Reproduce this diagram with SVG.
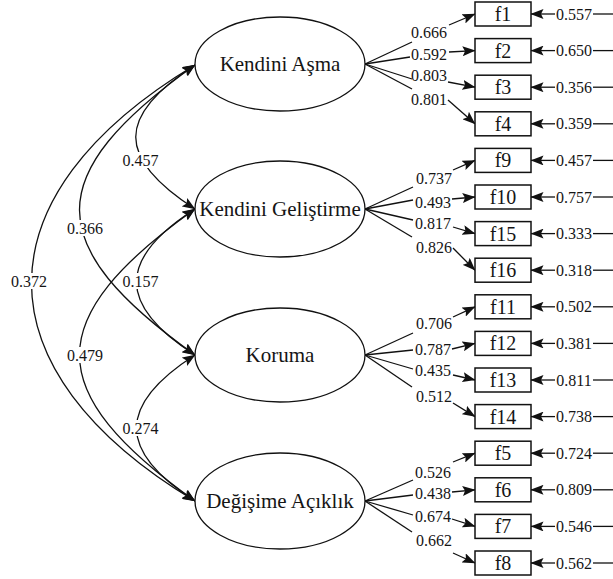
<svg xmlns="http://www.w3.org/2000/svg" width="613" height="579" viewBox="0 0 613 579">
<style>
.ln{stroke:#111;stroke-width:1.3;fill:none}
.arr{marker-end:url(#ah)}
.dbl{marker-start:url(#ah);marker-end:url(#ah)}
.box{fill:#fff;stroke:#111;stroke-width:1.5}
.ell{fill:#fff;stroke:#111;stroke-width:1.3}
.bg{fill:#fff}
text{font-family:"Liberation Serif","Times New Roman",serif;fill:#151515;text-anchor:middle}
.num{font-size:16px}
.lat{font-size:21px}
.obs{font-size:20px}
</style>
<defs>
<marker id="ah" viewBox="0 0 13 10" refX="12.5" refY="5" markerWidth="13" markerHeight="10" markerUnits="userSpaceOnUse" orient="auto-start-reverse">
<path d="M0,0 L13,5 L0,10 L2.5,5 z" fill="#111"/>
</marker>
</defs>
<rect width="613" height="579" fill="#fff"/>

<g id="connectors">
  <!-- correlations -->
  <path class="ln dbl" d="M195,65 C116,116 116,158 195,209"/>
  <path class="ln dbl" d="M195,65 C41,175 41,245 195,355"/>
  <path class="ln dbl" d="M195,65 C-23,196 -23,370 195,501"/>
  <path class="ln dbl" d="M195,209 C117,259 117,305 195,355"/>
  <path class="ln dbl" d="M195,209 C41,319 41,391 195,501"/>
  <path class="ln dbl" d="M195,355 C117,405 117,451 195,501"/>
  <rect class="bg" x="120" y="152" width="41" height="16"/>
  <rect class="bg" x="65" y="220" width="41" height="16"/>
  <rect class="bg" x="9" y="273" width="41" height="16"/>
  <rect class="bg" x="120" y="273" width="41" height="16"/>
  <rect class="bg" x="65" y="347" width="41" height="16"/>
  <rect class="bg" x="120" y="420" width="41" height="16"/>
  <text class="num" x="140.5" y="165.5">0.457</text>
  <text class="num" x="85" y="233.5">0.366</text>
  <text class="num" x="29" y="286.5">0.372</text>
  <text class="num" x="140.5" y="286.5">0.157</text>
  <text class="num" x="85" y="360.5">0.479</text>
  <text class="num" x="140.5" y="433.5">0.274</text>

  <!-- loadings: Kendini Aşma -->
  <path class="ln" d="M365,64 L412,42"/><path class="ln arr" d="M449,25 L475,14"/>
  <path class="ln" d="M365,64 L410,57"/><path class="ln arr" d="M449,52 L475,50.6"/>
  <path class="ln" d="M365,64 L412,79"/><path class="ln arr" d="M448,82 L475,87.2"/>
  <path class="ln" d="M365,64 L412,89"/><path class="ln arr" d="M448,100 L475,123.8"/>
  <text class="num" x="429" y="37.5">0.666</text>
  <text class="num" x="429" y="59.5">0.592</text>
  <text class="num" x="429" y="80.5">0.803</text>
  <text class="num" x="429" y="104.5">0.801</text>

  <!-- loadings: Kendini Geliştirme -->
  <path class="ln" d="M365,209 L413,187"/><path class="ln arr" d="M453,170 L475,160.4"/>
  <path class="ln" d="M365,209 L413,200"/><path class="ln arr" d="M452,199 L475,197"/>
  <path class="ln" d="M365,209 L413,220"/><path class="ln arr" d="M453,227 L475,233.6"/>
  <path class="ln" d="M365,209 L412,237"/><path class="ln arr" d="M453,248 L475,270.2"/>
  <text class="num" x="434" y="183.5">0.737</text>
  <text class="num" x="433" y="207.5">0.493</text>
  <text class="num" x="433" y="228.5">0.817</text>
  <text class="num" x="434" y="252.5">0.826</text>

  <!-- loadings: Koruma -->
  <path class="ln" d="M365,355 L413,333"/><path class="ln arr" d="M453,317 L475,306.8"/>
  <path class="ln" d="M365,355 L413,350"/><path class="ln arr" d="M452,349 L475,343.4"/>
  <path class="ln" d="M365,355 L413,369"/><path class="ln arr" d="M453,375 L475,380"/>
  <path class="ln" d="M365,355 L412,387"/><path class="ln arr" d="M453,403 L475,416.6"/>
  <text class="num" x="434" y="328.5">0.706</text>
  <text class="num" x="433" y="354.5">0.787</text>
  <text class="num" x="433" y="375.5">0.435</text>
  <text class="num" x="434" y="401.5">0.512</text>

  <!-- loadings: Değişime Açıklık -->
  <path class="ln" d="M365,501 L413,480"/><path class="ln arr" d="M453,462 L475,453.2"/>
  <path class="ln" d="M365,501 L413,495"/><path class="ln arr" d="M452,492 L475,489.8"/>
  <path class="ln" d="M365,501 L413,515"/><path class="ln arr" d="M452,519 L475,526.4"/>
  <path class="ln" d="M365,501 L412,532"/><path class="ln arr" d="M453,553 L475,563"/>
  <text class="num" x="433" y="477.5">0.526</text>
  <text class="num" x="433" y="498.5">0.438</text>
  <text class="num" x="433" y="521.5">0.674</text>
  <text class="num" x="434" y="545.5">0.662</text>

  <!-- error terms -->
  <g>
    <path class="ln arr" d="M555,14 L531,14"/><path class="ln" d="M593,14 L613,14"/>
    <path class="ln arr" d="M555,50.6 L531,50.6"/><path class="ln" d="M593,50.6 L613,50.6"/>
    <path class="ln arr" d="M555,87.2 L531,87.2"/><path class="ln" d="M593,87.2 L613,87.2"/>
    <path class="ln arr" d="M555,123.8 L531,123.8"/><path class="ln" d="M593,123.8 L613,123.8"/>
    <path class="ln arr" d="M555,160.4 L531,160.4"/><path class="ln" d="M593,160.4 L613,160.4"/>
    <path class="ln arr" d="M555,197 L531,197"/><path class="ln" d="M593,197 L613,197"/>
    <path class="ln arr" d="M555,233.6 L531,233.6"/><path class="ln" d="M593,233.6 L613,233.6"/>
    <path class="ln arr" d="M555,270.2 L531,270.2"/><path class="ln" d="M593,270.2 L613,270.2"/>
    <path class="ln arr" d="M555,306.8 L531,306.8"/><path class="ln" d="M593,306.8 L613,306.8"/>
    <path class="ln arr" d="M555,343.4 L531,343.4"/><path class="ln" d="M593,343.4 L613,343.4"/>
    <path class="ln arr" d="M555,380 L531,380"/><path class="ln" d="M593,380 L613,380"/>
    <path class="ln arr" d="M555,416.6 L531,416.6"/><path class="ln" d="M593,416.6 L613,416.6"/>
    <path class="ln arr" d="M555,453.2 L531,453.2"/><path class="ln" d="M593,453.2 L613,453.2"/>
    <path class="ln arr" d="M555,489.8 L531,489.8"/><path class="ln" d="M593,489.8 L613,489.8"/>
    <path class="ln arr" d="M555,526.4 L531,526.4"/><path class="ln" d="M593,526.4 L613,526.4"/>
    <path class="ln arr" d="M555,563 L531,563"/><path class="ln" d="M593,563 L613,563"/>
  </g>
  <text class="num" x="574" y="19.5">0.557</text>
  <text class="num" x="574" y="56.1">0.650</text>
  <text class="num" x="574" y="92.7">0.356</text>
  <text class="num" x="574" y="129.3">0.359</text>
  <text class="num" x="574" y="165.9">0.457</text>
  <text class="num" x="574" y="202.5">0.757</text>
  <text class="num" x="574" y="239.1">0.333</text>
  <text class="num" x="574" y="275.7">0.318</text>
  <text class="num" x="574" y="312.3">0.502</text>
  <text class="num" x="574" y="348.9">0.381</text>
  <text class="num" x="574" y="385.5">0.811</text>
  <text class="num" x="574" y="422.1">0.738</text>
  <text class="num" x="574" y="458.7">0.724</text>
  <text class="num" x="574" y="495.3">0.809</text>
  <text class="num" x="574" y="531.9">0.546</text>
  <text class="num" x="574" y="568.5">0.562</text>
</g>

<g id="kendini-asma"><ellipse class="ell" cx="280" cy="64" rx="85" ry="47"/><text class="lat" x="280" y="71">Kendini Aşma</text></g>
<g id="kendini-gelistirme"><ellipse class="ell" cx="280" cy="209" rx="85" ry="48"/><text class="lat" x="280" y="216">Kendini Geliştirme</text></g>
<g id="koruma"><ellipse class="ell" cx="280" cy="355" rx="85" ry="47"/><text class="lat" x="280" y="362">Koruma</text></g>
<g id="degisime-aciklik"><ellipse class="ell" cx="280" cy="501" rx="85" ry="48"/><text class="lat" x="280" y="508">Değişime Açıklık</text></g>

<g id="f1"><rect class="box" x="475" y="2" width="56" height="24"/><text class="obs" x="503" y="21">f1</text></g>
<g id="f2"><rect class="box" x="475" y="38.6" width="56" height="24"/><text class="obs" x="503" y="57.6">f2</text></g>
<g id="f3"><rect class="box" x="475" y="75.2" width="56" height="24"/><text class="obs" x="503" y="94.2">f3</text></g>
<g id="f4"><rect class="box" x="475" y="111.8" width="56" height="24"/><text class="obs" x="503" y="130.8">f4</text></g>
<g id="f9"><rect class="box" x="475" y="148.4" width="56" height="24"/><text class="obs" x="503" y="167.4">f9</text></g>
<g id="f10"><rect class="box" x="475" y="185" width="56" height="24"/><text class="obs" x="503" y="204">f10</text></g>
<g id="f15"><rect class="box" x="475" y="221.6" width="56" height="24"/><text class="obs" x="503" y="240.6">f15</text></g>
<g id="f16"><rect class="box" x="475" y="258.2" width="56" height="24"/><text class="obs" x="503" y="277.2">f16</text></g>
<g id="f11"><rect class="box" x="475" y="294.8" width="56" height="24"/><text class="obs" x="503" y="313.8">f11</text></g>
<g id="f12"><rect class="box" x="475" y="331.4" width="56" height="24"/><text class="obs" x="503" y="350.4">f12</text></g>
<g id="f13"><rect class="box" x="475" y="368" width="56" height="24"/><text class="obs" x="503" y="387">f13</text></g>
<g id="f14"><rect class="box" x="475" y="404.6" width="56" height="24"/><text class="obs" x="503" y="423.6">f14</text></g>
<g id="f5"><rect class="box" x="475" y="441.2" width="56" height="24"/><text class="obs" x="503" y="460.2">f5</text></g>
<g id="f6"><rect class="box" x="475" y="477.8" width="56" height="24"/><text class="obs" x="503" y="496.8">f6</text></g>
<g id="f7"><rect class="box" x="475" y="514.4" width="56" height="24"/><text class="obs" x="503" y="533.4">f7</text></g>
<g id="f8"><rect class="box" x="475" y="551" width="56" height="24"/><text class="obs" x="503" y="570">f8</text></g>
</svg>
